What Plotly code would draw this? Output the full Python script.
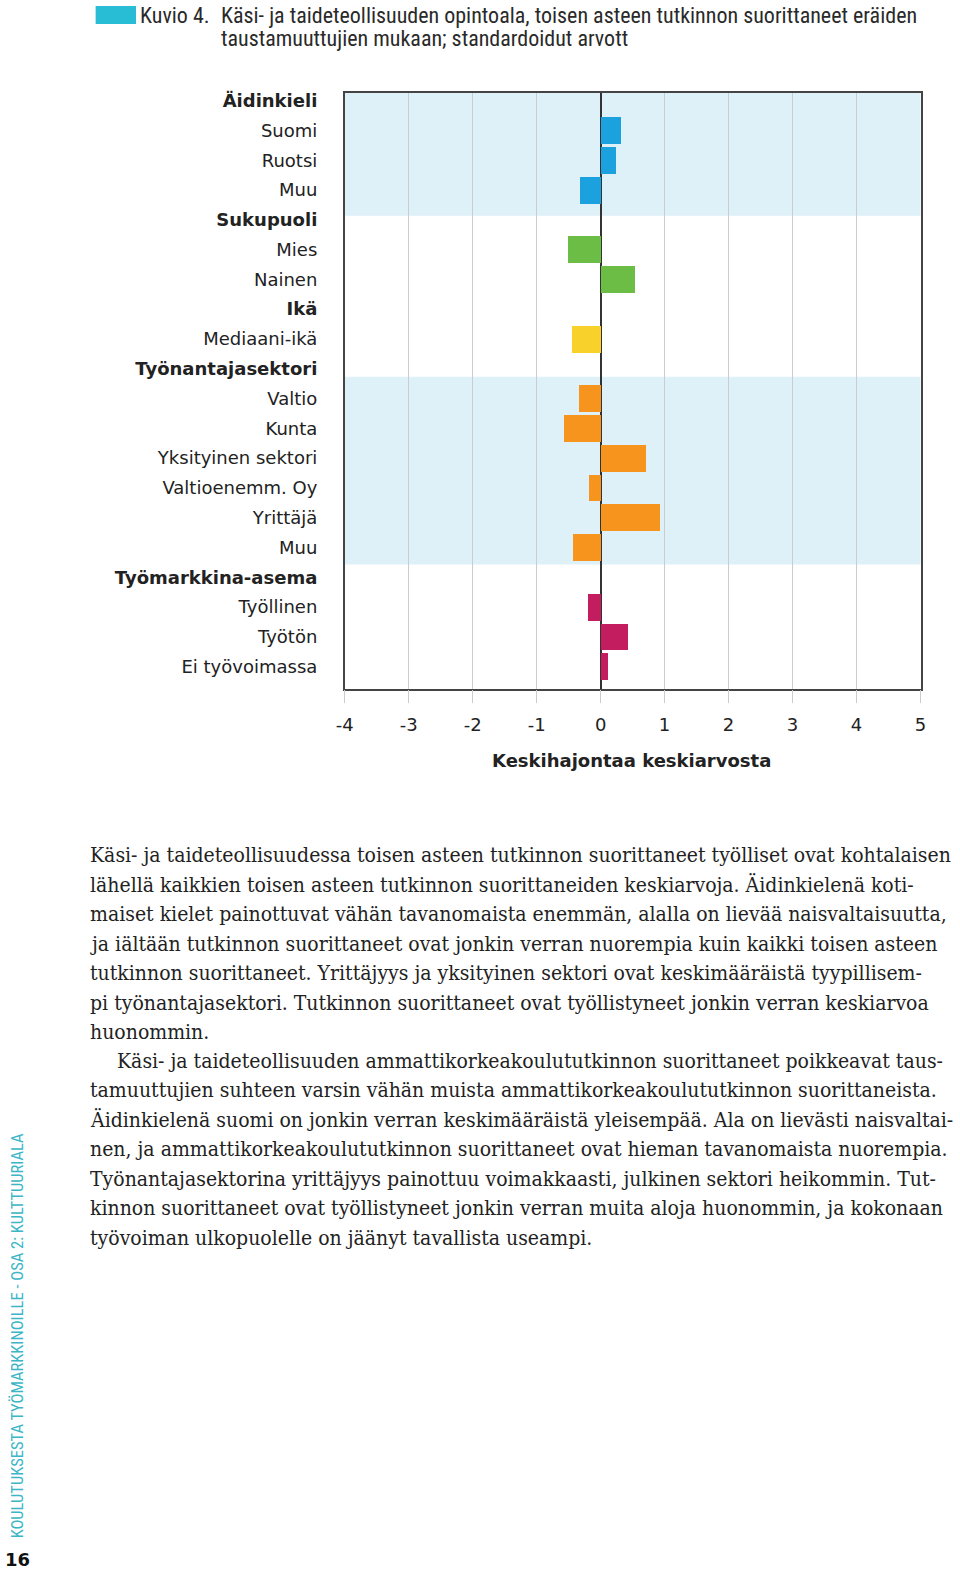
import plotly.graph_objects as go

# ---------------- data ----------------
categories = ["Äidinkieli", "Suomi", "Ruotsi", "Muu",
              "Sukupuoli", "Mies", "Nainen",
              "Ikä", "Mediaani-ikä",
              "Työnantajasektori", "Valtio", "Kunta", "Yksityinen sektori",
              "Valtioenemm. Oy", "Yrittäjä", "Muu",
              "Työmarkkina-asema", "Työllinen", "Työtön", "Ei työvoimassa"]
headers = ["Äidinkieli", "Sukupuoli", "Ikä", "Työnantajasektori", "Työmarkkina-asema"]

aidinkieli_labels = ["Suomi", "Ruotsi", "Muu"]
aidinkieli_values = [0.31, 0.24, -0.33]
sukupuoli_labels = ["Mies", "Nainen"]
sukupuoli_values = [-0.52, 0.54]
ika_labels = ["Mediaani-ikä"]
ika_values = [-0.45]
tyonantaja_labels = ["Valtio", "Kunta", "Yksityinen sektori", "Valtioenemm. Oy", "Yrittäjä", "Muu"]
tyonantaja_values = [-0.35, -0.57, 0.71, -0.19, 0.92, -0.43]
tyomarkkina_labels = ["Työllinen", "Työtön", "Ei työvoimassa"]
tyomarkkina_values = [-0.21, 0.43, 0.11]

x_ticks = [-4, -3, -2, -1, 0, 1, 2, 3, 4, 5]

title_lines = ["Käsi- ja taideteollisuuden opintoala, toisen asteen tutkinnon suorittaneet eräiden",
               "taustamuuttujien mukaan; standardoidut arvott"]

para1 = ["Käsi- ja taideteollisuudessa toisen asteen tutkinnon suorittaneet työlliset ovat kohtalaisen",
         "lähellä kaikkien toisen asteen tutkinnon suorittaneiden keskiarvoja. Äidinkielenä koti-",
         "maiset kielet painottuvat vähän tavanomaista enemmän, alalla on lievää naisvaltaisuutta,",
         "ja iältään tutkinnon suorittaneet ovat jonkin verran nuorempia kuin kaikki toisen asteen",
         "tutkinnon suorittaneet. Yrittäjyys ja yksityinen sektori ovat keskimääräistä tyypillisem-",
         "pi työnantajasektori. Tutkinnon suorittaneet ovat työllistyneet jonkin verran keskiarvoa",
         "huonommin."]
para2 = ["Käsi- ja taideteollisuuden ammattikorkeakoulututkinnon suorittaneet poikkeavat taus-",
         "tamuuttujien suhteen varsin vähän muista ammattikorkeakoulututkinnon suorittaneista.",
         "Äidinkielenä suomi on jonkin verran keskimääräistä yleisempää. Ala on lievästi naisvaltai-",
         "nen, ja ammattikorkeakoulututkinnon suorittaneet ovat hieman tavanomaista nuorempia.",
         "Työnantajasektorina yrittäjyys painottuu voimakkaasti, julkinen sektori heikommin. Tut-",
         "kinnon suorittaneet ovat työllistyneet jonkin verran muita aloja huonommin, ja kokonaan",
         "työvoiman ulkopuolelle on jäänyt tavallista useampi."]

# ---------------- styles ----------------
W, H = 960, 1572
px_l, px_r, px_t, px_b = 341, 926, 90, 687
groups = [
    (aidinkieli_labels, aidinkieli_values, "#1ba1dd", 1),
    (sukupuoli_labels, sukupuoli_values, "#6bbd45", 5),
    (ika_labels, ika_values, "#f8d12b", 8),
    (tyonantaja_labels, tyonantaja_values, "#f7941d", 10),
    (tyomarkkina_labels, tyomarkkina_values, "#c41d5f", 17),
]
band_color = "#def1f9"
y_range = [19.74, -0.263]
bands = [(-0.263, 3.86), (9.27, 15.57)]

LABEL_FONT = "DejaVu Sans"
NARROW = "Roboto Condensed, Liberation Sans Narrow, Liberation Sans, sans-serif"
SERIF = "DejaVu Serif Condensed, Liberation Serif"


def px_x(p):
    return p / W


def px_y(p):
    return 1 - p / H


fig = go.Figure()
for labels, vals, color, start in groups:
    fig.add_trace(go.Bar(
        x=vals, y=list(range(start, start + len(vals))), orientation="h",
        marker=dict(color=color, line=dict(width=0)), width=0.9,
        showlegend=False, hovertext=labels, hoverinfo="text+x"))

ticktext = [f"<b>{c}</b>" if (c in headers) else c for c in categories]

shapes = []
for y0, y1 in bands:
    shapes.append(dict(type="rect", xref="x domain", yref="y", x0=0, x1=1, y0=y0, y1=y1,
                       fillcolor=band_color, line=dict(width=0), layer="below"))
# title colour box
shapes.append(dict(type="rect", xref="paper", yref="paper", x0=px_x(88), x1=px_x(129),
                   y0=px_y(21), y1=px_y(3), fillcolor="#29bcd5", line=dict(width=0)))

annotations = []
annotations.append(dict(text="Kuvio 4.", x=px_x(131), y=px_y(13), xref="paper", yref="paper",
                        xanchor="left", yanchor="middle", showarrow=False,
                        font=dict(family=NARROW, size=22, color="#2a2a2a")))
for i, line in enumerate(title_lines):
    annotations.append(dict(text=line, x=px_x(213), y=px_y(13 + 23 * i), xref="paper", yref="paper",
                            xanchor="left", yanchor="middle", showarrow=False,
                            font=dict(family=NARROW, size=22, color="#2a2a2a")))
annotations.append(dict(text="<b>Keskihajontaa keskiarvosta</b>", x=px_x(632), y=px_y(759),
                        xref="paper", yref="paper", xanchor="center", yanchor="middle",
                        showarrow=False, font=dict(family=LABEL_FONT, size=18, color="#222")))

line_h = 29.5
for i, line in enumerate(para1):
    annotations.append(dict(text=line, x=px_x(80), y=px_y(854 + line_h * i), xref="paper", yref="paper",
                            xanchor="left", yanchor="middle", showarrow=False,
                            font=dict(family=SERIF, size=21, color="#222")))
for i, line in enumerate(para2):
    xl = 108 if i == 0 else 80
    annotations.append(dict(text=line, x=px_x(xl), y=px_y(1060 + line_h * i), xref="paper", yref="paper",
                            xanchor="left", yanchor="middle", showarrow=False,
                            font=dict(family=SERIF, size=21, color="#222")))

annotations.append(dict(text="KOULUTUKSESTA TYÖMARKKINOILLE - OSA 2: KULTTUURIALA",
                        x=px_x(9), y=px_y(1335), xref="paper", yref="paper", textangle=-90,
                        xanchor="center", yanchor="middle", showarrow=False,
                        font=dict(family=NARROW, size=16.5, color="#3cb6c6")))
annotations.append(dict(text="<b>16</b>", x=px_x(9), y=px_y(1559), xref="paper", yref="paper",
                        xanchor="center", yanchor="middle", showarrow=False,
                        font=dict(family="DejaVu Sans", size=18, color="#111")))

fig.update_layout(
    width=W, height=H, autosize=False,
    margin=dict(l=0, r=0, t=0, b=0),
    paper_bgcolor="white", plot_bgcolor="white",
    barmode="overlay", bargap=0, hovermode=False,
    shapes=shapes, annotations=annotations,
    xaxis=dict(domain=[px_x(px_l), px_x(px_r)], range=[-4, 5], tickvals=x_ticks,
               ticktext=[str(t) for t in x_ticks],
               showgrid=True, gridcolor="#c9cdd0", gridwidth=1,
               zeroline=True, zerolinecolor="#333", zerolinewidth=1.5,
               showline=True, linecolor="#444", linewidth=1.5, mirror=True,
               ticks="outside", ticklen=13, tickcolor="#c9cdd0", tickwidth=1,
               ticklabelstandoff=6,
               tickfont=dict(family=LABEL_FONT, size=18, color="#222"), layer="above traces"),
    yaxis=dict(domain=[px_y(px_b), px_y(px_t)], range=y_range,
               tickvals=list(range(len(categories))), ticktext=ticktext,
               showgrid=False, zeroline=False, showline=True, linecolor="#444", linewidth=1.5,
               mirror=True, ticks="", ticklabelstandoff=22,
               tickfont=dict(family=LABEL_FONT, size=18, color="#222")),
)

# remove the page's default body margin so the figure fills the window exactly
fig.write_html("out.html", config={"displayModeBar": False},
               post_script="document.body.style.margin='0px';document.body.style.overflow='hidden';")
